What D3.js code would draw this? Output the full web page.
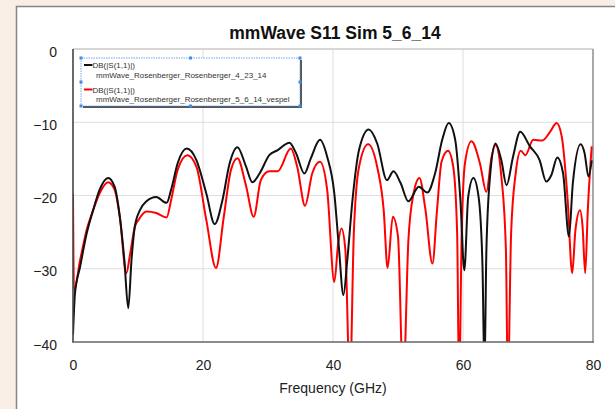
<!DOCTYPE html>
<html>
<head>
<meta charset="utf-8">
<script src="https://cdn.jsdelivr.net/npm/d3@7"></script>
<style>
  html, body { margin: 0; padding: 0; background: #f8eee5; }
  svg { display: block; font-family: "Liberation Sans", Arial, sans-serif; }
</style>
</head>
<body>
<svg id="chart"></svg>
<script>
// frequency (GHz) / dB
const blackFreq = [0, 0.3, 1.1, 2.1, 3.1, 4.1, 5.4, 6.4, 7.2, 7.9, 8.5, 9.0, 9.5, 10.3, 11.3, 12.8, 14.4, 15.1, 16.1, 17.5,
  19.0, 20.5, 21.8, 23.0, 24.1, 25.3, 26.6, 27.6, 28.7, 30.2, 31.5, 33.3, 34.3, 35.6, 36.6, 38.0, 39.1, 40.2, 40.9, 41.6,
  42.2, 43.0, 44.0, 45.5, 46.8, 48.3, 49.3, 50.4, 51.6, 53.2, 54.5, 55.7, 56.8, 57.8, 58.8, 59.6, 60.2, 60.8, 61.6, 62.4,
  63.0, 63.3, 63.6, 64.2, 65.0, 65.9, 66.7, 67.7, 68.8, 70.3, 71.8, 72.8, 73.6, 74.5, 75.4, 76.3, 76.9, 78.1, 78.7, 79.3, 79.8];
const blackDb = [-39, -33.4, -29.7, -25.2, -22.0, -19.2, -17.6, -18.8, -22.9, -28.8, -35.4, -28.8, -24.3, -22.0, -20.8, -20.2, -21.0, -19.2, -15.6, -13.6,
  -15.2, -19.7, -23.9, -20.6, -15.6, -13.4, -16.0, -18.2, -17.0, -14.5, -13.8, -12.8, -14.2, -17.0, -14.9, -12.4, -14.7, -19.7, -27.0, -33.6,
  -28.8, -20.6, -13.8, -11.0, -12.9, -17.9, -16.7, -18.3, -20.8, -18.8, -19.6, -17.0, -12.4, -10.1, -12.4, -20.6, -30.2, -20.2, -17.6, -20.2,
  -29.7, -44, -27.4, -17.0, -12.9, -15.2, -18.6, -14.7, -11.3, -13.3, -15.2, -18.1, -17.2, -14.8, -17.0, -25.6, -18.3, -13.0, -14.2, -17.4, -15.2];

const redFreq = [0, 0.15, 1.1, 2.1, 3.1, 4.1, 5.4, 6.4, 7.2, 8.2, 8.8, 9.5, 10.1, 11.3, 12.8, 14.4, 15.1, 16.1, 17.6, 19.0,
  20.5, 22.0, 23.2, 24.3, 25.3, 26.6, 27.8, 28.9, 30.2, 31.5, 33.5, 34.5, 35.7, 36.8, 38.0, 39.1, 40.2, 40.8, 41.3, 41.9,
  42.6, 43.2, 44.0, 45.4, 46.8, 47.8, 48.4, 49.2, 50.0, 50.8, 51.6, 52.4, 53.3, 54.2, 55.3, 56.0, 56.7, 57.7, 58.5, 59.1,
  59.4, 59.8, 60.3, 61.3, 62.6, 63.6, 64.4, 65.0, 65.9, 66.6, 66.9, 67.4, 68.1, 68.9, 69.6, 70.8, 72.2, 73.4, 74.4, 75.2,
  76.1, 76.8, 77.3, 78.0, 78.4, 78.8, 79.2, 79.8];
const redDb = [-19.8, -33, -28.8, -24.7, -22.0, -19.7, -18.2, -19.2, -22.9, -30.6, -27.9, -24.3, -23.3, -22.2, -22.4, -23.0, -20.6, -16.5, -14.5, -16.1,
  -23.3, -29.9, -22.9, -16.5, -14.9, -18.6, -22.9, -17.9, -16.7, -16.7, -13.6, -16.1, -21.4, -17.0, -15.4, -19.2, -31.8, -26.5, -24.5, -27.4,
  -46, -25.2, -16.1, -13.0, -16.1, -22.0, -29.9, -22.9, -25.6, -46, -26.1, -19.7, -17.6, -21.8, -29.3, -22.0, -15.4, -13.9, -16.1, -25.2,
  -46, -25.2, -15.6, -12.6, -15.6, -19.5, -14.7, -13.1, -17.4, -27.4, -46, -25.2, -17.0, -13.9, -14.5, -12.4, -12.5, -11.3, -10.1, -12.0,
  -20.6, -30.6, -24.7, -22.0, -24.3, -30.6, -22.0, -13.3];

const xTicks = [0, 20, 40, 60, 80];
const yTicks = [0, -10, -20, -30, -40];
const legendLabels = [
  ["DB(|S(1,1)|)", "mmWave_Rosenberger_Rosenberger_4_23_14"],
  ["DB(|S(1,1)|)", "mmWave_Rosenberger_Rosenberger_5_6_14_vespel"]
];
const traceColors = ["#111111", "#ff0000"];

const width = 615, height = 409;
const margin = { top: 49, right: 20, bottom: 67, left: 73 };

const svg = d3.select("#chart")
  .attr("width", width)
  .attr("height", height)
  .attr("viewBox", [0, 0, width, height]);

// white panel with grey border
svg.append("rect")
  .attr("x", 16.5).attr("y", 6.5)
  .attr("width", width + 10).attr("height", height + 10)
  .attr("fill", "#fff").attr("stroke", "#858585").attr("stroke-width", 1.5);

const x = d3.scaleLinear().domain([0, 80]).range([margin.left, width - margin.right - 2]);
const y = d3.scaleLinear().domain([-40, 0]).range([height - margin.bottom, margin.top]);

// grid
svg.append("g")
  .selectAll("line")
  .data(xTicks.slice(1, -1))
  .join("line")
  .attr("x1", d => x(d)).attr("x2", d => x(d))
  .attr("y1", y(0)).attr("y2", y(-40))
  .attr("stroke", "#dedede");
svg.append("g")
  .selectAll("line")
  .data(yTicks.slice(1, -1))
  .join("line")
  .attr("x1", x(0)).attr("x2", x(80))
  .attr("y1", d => y(d)).attr("y2", d => y(d))
  .attr("stroke", "#dedede");

// plot frame
svg.append("line").attr("x1", x(0)).attr("x2", x(80)).attr("y1", y(0)).attr("y2", y(0))
  .attr("stroke", "#b0b0b0").attr("stroke-width", 1.2);
svg.append("line").attr("x1", x(80)).attr("x2", x(80)).attr("y1", y(0)).attr("y2", y(-40))
  .attr("stroke", "#a0a0a0").attr("stroke-width", 1.8);

// axes (labels only, frame drawn separately)
svg.append("g")
  .attr("transform", `translate(0,${y(-40)})`)
  .call(d3.axisBottom(x).tickValues(xTicks).tickSize(0).tickPadding(18))
  .call(g => g.select(".domain").remove())
  .call(g => g.selectAll("text").attr("font-size", 14).attr("fill", "#222").attr("font-family", "Liberation Sans, Arial, sans-serif"));

svg.append("g")
  .attr("transform", `translate(${x(0)},0)`)
  .call(d3.axisLeft(y).tickValues(yTicks).tickSize(0).tickPadding(16))
  .call(g => g.select(".domain").remove())
  .call(g => g.selectAll("text").attr("font-size", 14).attr("fill", "#222").attr("dy", "0.5em").attr("font-family", "Liberation Sans, Arial, sans-serif"));

// traces, clipped to the plot
svg.append("clipPath").attr("id", "clip")
  .append("rect")
  .attr("x", x(0)).attr("y", y(0))
  .attr("width", x(80) - x(0)).attr("height", y(-40) - y(0));

const line = d3.line()
  .x(d => x(d[0]))
  .y(d => y(d[1]))
  .curve(d3.curveMonotoneX);

const series = [
  d3.zip(blackFreq, blackDb),
  d3.zip(redFreq, redDb)
];

svg.append("g")
  .attr("clip-path", "url(#clip)")
  .selectAll("path")
  .data([1, 0])
  .join("path")
  .attr("fill", "none")
  .attr("stroke", i => traceColors[i])
  .attr("stroke-width", 2)
  .attr("stroke-linejoin", "round")
  .attr("d", i => line(series[i]));

svg.append("line").attr("x1", x(0)).attr("x2", x(0)).attr("y1", y(0)).attr("y2", y(-40) + 0.8)
  .attr("stroke", "#444").attr("stroke-width", 1.6);
svg.append("line").attr("x1", x(0)).attr("x2", x(80) + 1).attr("y1", y(-40)).attr("y2", y(-40))
  .attr("stroke", "#666").attr("stroke-width", 1.6);

// titles
svg.append("text")
  .attr("x", 335).attr("y", 39)
  .attr("text-anchor", "middle")
  .attr("font-size", 17.5).attr("font-weight", "bold").attr("fill", "#111")
  .text("mmWave S11 Sim 5_6_14");

svg.append("text")
  .attr("x", (x(0) + x(80)) / 2).attr("y", 393)
  .attr("text-anchor", "middle")
  .attr("font-size", 14).attr("fill", "#222")
  .text("Frequency (GHz)");

// legend box (selected look: dotted blue border, handles, dark shadow)
const lg = { x: 81, y: 58, w: 219, h: 48 };
const legend = svg.append("g");
legend.append("rect")
  .attr("x", lg.x + 2).attr("y", lg.y + 2).attr("width", lg.w).attr("height", lg.h)
  .attr("fill", "#555");
legend.append("rect")
  .attr("x", lg.x).attr("y", lg.y).attr("width", lg.w).attr("height", lg.h)
  .attr("fill", "#fff").attr("stroke", "#4d8fe0").attr("stroke-width", 0.8)
  .attr("stroke-dasharray", "1.5,1");

const handles = [];
[0, 0.5, 1].forEach(fx => [0, 0.5, 1].forEach(fy => {
  if (fx !== 0.5 || fy !== 0.5) handles.push([lg.x + fx * lg.w, lg.y + fy * lg.h]);
}));
legend.selectAll(".handle")
  .data(handles)
  .join("rect")
  .attr("class", "handle")
  .attr("x", d => d[0] - 1.5).attr("y", d => d[1] - 1.5)
  .attr("width", 3).attr("height", 3)
  .attr("fill", "#3d8ee8");

const entry = legend.selectAll(".entry")
  .data(legendLabels)
  .join("g")
  .attr("class", "entry")
  .attr("transform", (d, i) => `translate(0,${i * 24.5})`);

entry.append("line")
  .attr("x1", 84).attr("x2", 92.5)
  .attr("y1", 65).attr("y2", 65)
  .attr("stroke", (d, i) => traceColors[i]).attr("stroke-width", 2);

entry.append("text")
  .attr("x", 92.5).attr("y", 68)
  .attr("font-size", 8).attr("fill", "#333")
  .text(d => d[0]);

entry.append("text")
  .attr("x", 96).attr("y", 77.5)
  .attr("font-size", 8).attr("fill", "#333")
  .text(d => d[1]);
</script>
</body>
</html>
